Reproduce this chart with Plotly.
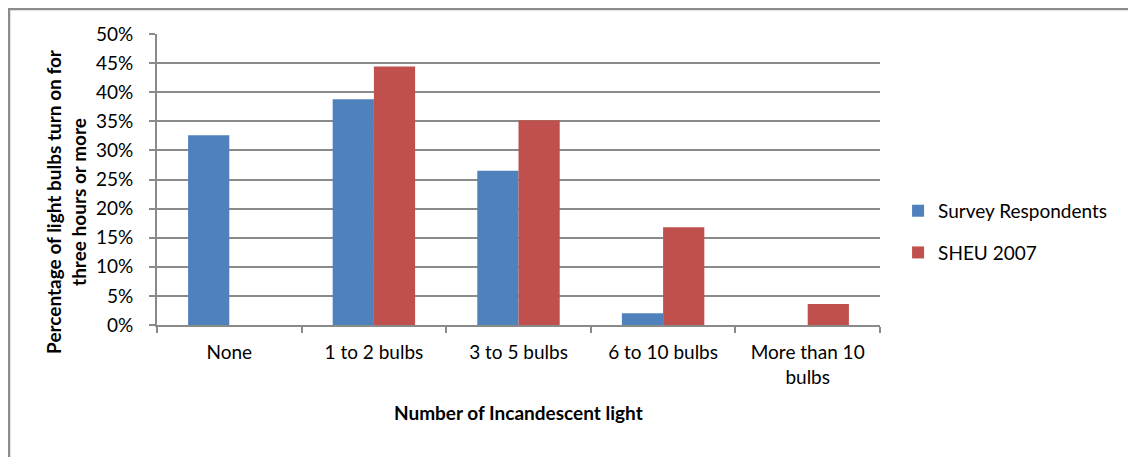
import plotly.graph_objects as go

categories = ["None", "1 to 2 bulbs", "3 to 5 bulbs", "6 to 10 bulbs", "More than 10<br>bulbs"]
survey = [0.326, 0.388, 0.265, 0.020, 0.0]
sheu = [0.0, 0.444, 0.352, 0.168, 0.036]

blue = "#4F81BD"
red = "#C0504D"
grid = "#8A8A8A"
font = "Lato"

fig = go.Figure()
fig.add_trace(go.Bar(x=categories, y=survey, name="Survey Respondents",
                     marker=dict(color=blue, line=dict(width=0)),
                     legendgroup="a"))
fig.add_trace(go.Bar(x=categories, y=sheu, name="SHEU 2007",
                     marker=dict(color=red, line=dict(width=0)),
                     legendgroup="b"))

fig.update_layout(
    width=1128, height=449,
    margin=dict(l=149, r=256, t=26, b=132),
    paper_bgcolor="white", plot_bgcolor="white",
    font=dict(family=font, size=19, color="black"),
    barmode="group", bargap=0.43, bargroupgap=0,
    legend=dict(x=1.025, y=0.32, yanchor="middle", xanchor="left",
                tracegroupgap=14, font=dict(size=19)),
    xaxis=dict(
        showline=True, linecolor=grid, linewidth=2,
        ticks="outside", tickson="boundaries", ticklen=6, tickcolor=grid, tickwidth=2,
        ticklabelstandoff=9, tickfont=dict(size=19),
    ),
    yaxis=dict(
        range=[0, 0.5], dtick=0.05, tickformat=".0%",
        showgrid=True, gridcolor=grid, gridwidth=2,
        showline=True, linecolor=grid, linewidth=2,
        ticks="outside", ticklen=6, tickcolor=grid, tickwidth=2,
        ticklabelstandoff=12, tickfont=dict(size=19),
        zeroline=False,
    ),
    annotations=[
        dict(text="<b>Percentage of light bulbs turn on for<br>three hours or more</b>",
             xref="paper", yref="paper", x=-0.126, y=0.426, textangle=-90,
             showarrow=False, font=dict(size=19), xanchor="center", yanchor="middle"),
        dict(text="<b>Number of Incandescent light</b>",
             xref="paper", yref="paper", x=0.5, y=-0.299,
             showarrow=False, font=dict(size=19), xanchor="center", yanchor="middle"),
    ],
    shapes=[dict(type="rect", xref="paper", yref="paper",
                 x0=-0.2047, x1=1.4, y0=-0.5, y1=1.0859,
                 line=dict(color="#8C8C8C", width=2.5), layer="below")],
)

fig.write_html("out.html")
